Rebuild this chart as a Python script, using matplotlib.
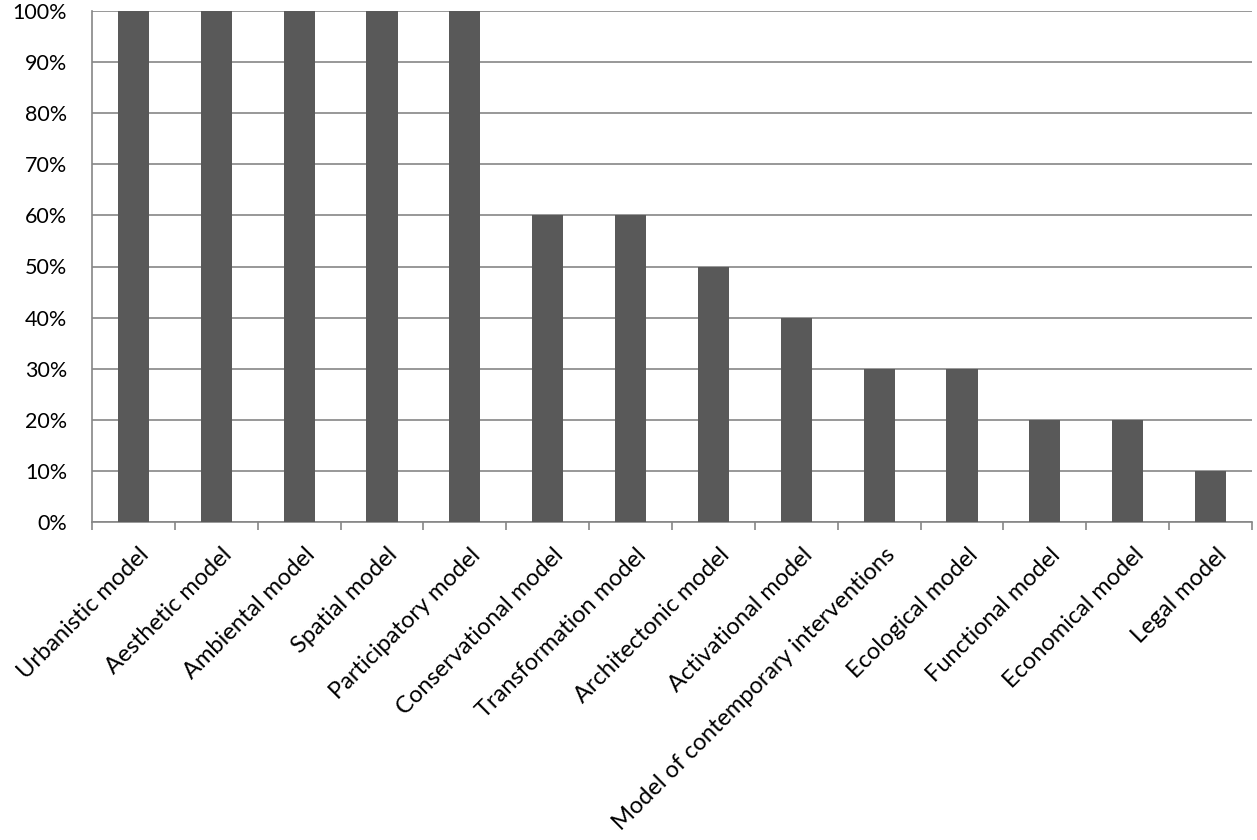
import matplotlib
matplotlib.use("Agg")
import matplotlib.pyplot as plt
from matplotlib.ticker import FixedLocator, PercentFormatter
import matplotlib.transforms as mtransforms
import numpy as np

categories = ["Urbanistic model", "Aesthetic model", "Ambiental model", "Spatial model",
              "Participatory model", "Conservational model", "Transformation model",
              "Architectonic model", "Activational model", "Model of contemporary interventions",
              "Ecological model", "Functional model", "Economical model", "Legal model"]
values = [100, 100, 100, 100, 100, 60, 60, 50, 40, 30, 30, 20, 20, 10]
yticks = [0, 10, 20, 30, 40, 50, 60, 70, 80, 90, 100]

plt.rcParams['font.family'] = ['Lato', 'DejaVu Sans']

fig = plt.figure(figsize=(12.57, 8.40), dpi=100)
ax = fig.add_axes([92/1257, 1-522/840, (1252-92)/1257, (522-11)/840])

x = np.arange(len(categories))
ax.bar(x, values, width=0.375, color="#595959", zorder=3)
ax.set_xlim(-0.5, len(categories)-0.5)
ax.set_ylim(0, 100)
ax.set_yticks(yticks)
ax.yaxis.set_major_formatter(PercentFormatter(decimals=0))
ax.grid(axis='y', color="#868686", linewidth=1.2, zorder=0)
for s in ['top', 'right']:
    ax.spines[s].set_visible(False)
for s in ['left', 'bottom']:
    ax.spines[s].set_color("#868686")
    ax.spines[s].set_linewidth(1.2)
ax.tick_params(axis='y', length=0, labelsize=15.5, pad=18, labelcolor="#000000")
ax.set_xticks(x)
ax.set_xticklabels(categories, rotation=45, ha='right', va='top',
                   rotation_mode='anchor', fontsize=17)
ax.tick_params(axis='x', length=0, pad=16)
offset = mtransforms.ScaledTranslation(5/100, 0, fig.dpi_scale_trans)
for lbl in ax.get_xticklabels():
    lbl.set_transform(lbl.get_transform() + offset)
ax.xaxis.set_minor_locator(FixedLocator(np.arange(-0.5, len(categories), 1)))
ax.tick_params(axis='x', which='minor', length=6, width=1.2, color="#868686")

fig.savefig("out.png", dpi=100)
